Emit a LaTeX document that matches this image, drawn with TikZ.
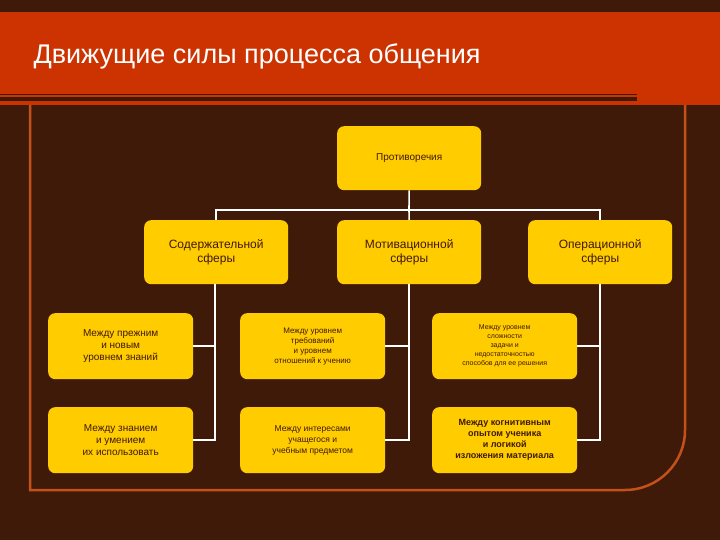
\documentclass[tikz,border=0pt]{standalone}
\usepackage{fontspec}
\setmainfont{Liberation Sans}
\begin{document}
\begin{tikzpicture}[x=1pt,y=-1pt,
  box/.style={draw=none,fill=boxy,rounded corners=7pt,minimum width=144pt,minimum height=64pt,
    align=center,text=brn,font=\fontsize{12}{14}\selectfont,anchor=north west,inner sep=2pt},
  sbox/.style={box,font=\fontsize{10}{12}\selectfont},
  tbox/.style={box,font=\fontsize{8}{10}\selectfont},
  con/.style={draw=white,line width=1.6pt}]
\definecolor{bg}{HTML}{3F1A08}
\definecolor{rd}{HTML}{CC3300}
\definecolor{boxy}{HTML}{FFCC00}
\definecolor{brn}{HTML}{3F1A08}
\definecolor{orng}{HTML}{C4501A}
\fill[bg] (0,0) rectangle (720,540);
\useasboundingbox (0,0) rectangle (720,540);
\fill[rd] (0,12) rectangle (720,105);
\fill[bg] (0,97) rectangle (637,105);
\fill[rd] (0,101) rectangle (637,105);
\draw[bg,line width=1pt] (0,95) -- (637,95);
\draw[orng,line width=2.5pt] (30,105) -- (30,490) -- (625,490) arc[start angle=90,end angle=0,radius=60] -- (685,105);
\node[white,anchor=west,font=\fontsize{27}{30}\selectfont] (title) at (30,56) {Движущие силы процесса общения};
\node[sbox] (p) at (337,126) {Противоречия};
\node[box] (s1) at (144,220) {Содержательной\\сферы};
\node[box] (s2) at (337,220) {Мотивационной\\сферы};
\node[box] (s3) at (528,220) {Операционной\\сферы};
\node[sbox,minimum width=145pt,minimum height=66pt] (a1) at (48,313) {Между прежним\\и новым\\уровнем знаний};
\node[tbox,minimum width=145pt,minimum height=66pt] (a2) at (240,313) {Между уровнем\\требований\\и уровнем\\отношений к учению};
\node[tbox,font=\fontsize{7}{9}\selectfont,minimum width=145pt,minimum height=66pt] (a3) at (432,313) {Между уровнем\\сложности\\задачи и\\недостаточностью\\способов для ее решения};
\node[sbox,minimum width=145pt,minimum height=66pt] (b1) at (48,407) {Между знанием\\и умением\\их использовать};
\node[tbox,font=\fontsize{8.5}{11}\selectfont,minimum width=145pt,minimum height=66pt] (b2) at (240,407) {Между интересами\\учащегося и\\учебным предметом};
\node[tbox,font=\fontsize{9}{11}\selectfont\bfseries,minimum width=145pt,minimum height=66pt] (b3) at (432,407) {Между когнитивным\\опытом ученика\\и логикой\\изложения материала};
\coordinate (j) at (409,210);
\draw[con] (p.south) -- (j);
\draw[con] (s1.north) |- (j) -| (s3.north);
\draw[con] (j) -- (s2.north);
\draw[con] (s1.south) ++(-1,0) coordinate (c1) -- (c1|-b1.east) -- (b1.east);
\draw[con] (c1|-a1.east) -- (a1.east);
\draw[con] (s2.south) -- (s2.south|-b2.east) -- (b2.east);
\draw[con] (s2.south|-a2.east) -- (a2.east);
\draw[con] (s3.south) -- (s3.south|-b3.east) -- (b3.east);
\draw[con] (s3.south|-a3.east) -- (a3.east);
\end{tikzpicture}
\end{document}
